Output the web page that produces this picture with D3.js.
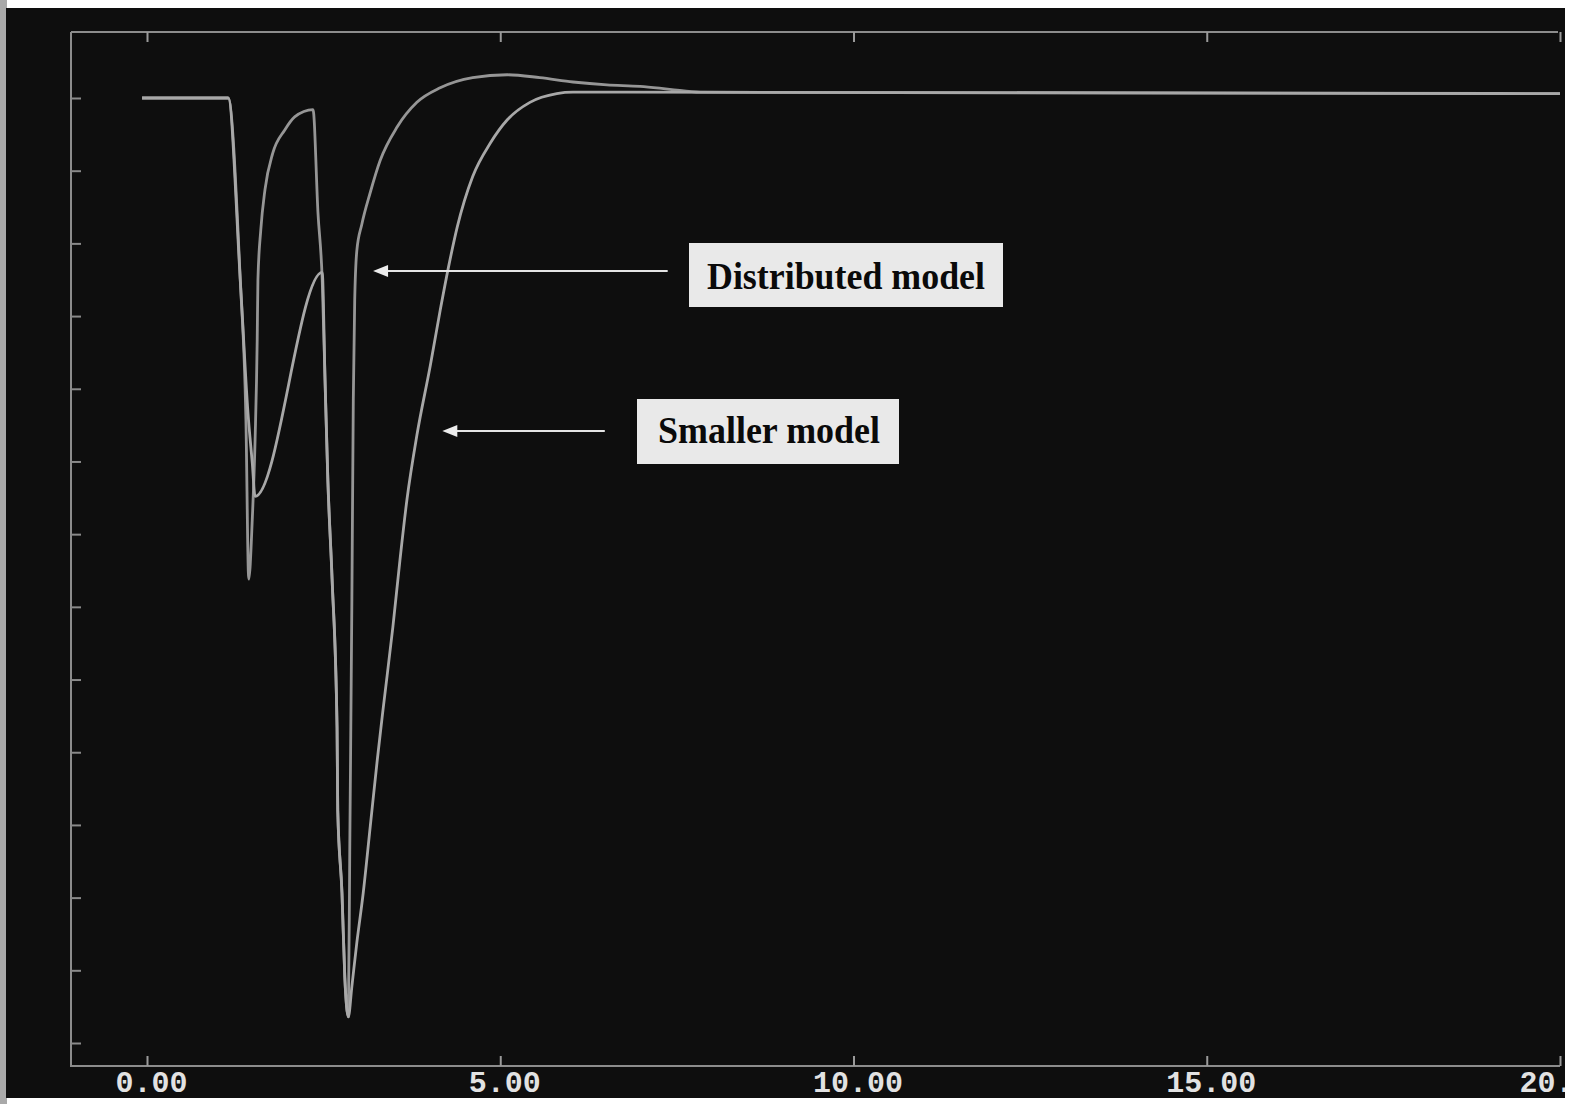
<!DOCTYPE html>
<html>
<head>
<meta charset="utf-8">
<script src="https://cdn.jsdelivr.net/npm/d3@7"></script>
<style>
  body { margin: 0; background: #fff; }
</style>
</head>
<body>
<div id="chart-area"></div>
<script>
// time axis ticks and the (hidden) voltage ticks
const xTicks = [0, 5, 10, 15, 20]
const yTicks = d3.range(14).map(i => +(0.35 + i * 0.05).toFixed(2))

// distributed model trace
const distT = [-0.07, 1.15, 1.32, 1.40, 1.44, 1.49, 1.53, 1.56, 1.57, 1.61, 1.67, 1.78, 1.95, 2.09, 2.35,
  2.42, 2.48, 2.52, 2.56, 2.62, 2.69, 2.70, 2.76, 2.80, 2.85,
  2.87, 2.90, 2.92, 2.94, 2.97, 3.04, 3.16, 3.30, 3.54, 3.82, 4.15, 4.61, 5.10, 5.56, 6.03, 6.51, 6.98, 7.40, 7.83, 20.0]
const distV = [1.000, 1.000, 0.875, 0.779, 0.669, 0.710, 0.765, 0.834, 0.875, 0.909, 0.937, 0.962, 0.978, 0.987, 0.992,
  0.921, 0.875, 0.806, 0.737, 0.669, 0.567, 0.510, 0.453, 0.395, 0.368,
  0.483, 0.655, 0.792, 0.861, 0.895, 0.913, 0.935, 0.957, 0.980, 0.997, 1.007, 1.014, 1.016, 1.014, 1.011, 1.009, 1.008, 1.006, 1.004, 1.003]

// smaller model trace
const smallT = [-0.07, 1.15, 1.32, 1.43, 1.49, 1.53, 2.48, 2.52, 2.56, 2.62, 2.69, 2.70, 2.76, 2.80, 2.85,
  2.90, 2.97, 3.06, 3.16, 3.26, 3.34, 3.48, 3.58, 3.68, 3.82, 4.01, 4.15, 4.29, 4.39, 4.61, 4.86, 5.10, 5.42, 5.80, 6.03, 6.74, 20.0]
const smallV = [1.000, 1.000, 0.875, 0.783, 0.749, 0.726, 0.880, 0.806, 0.737, 0.669, 0.567, 0.510, 0.453, 0.395, 0.368,
  0.389, 0.419, 0.453, 0.499, 0.545, 0.579, 0.636, 0.682, 0.724, 0.768, 0.816, 0.854, 0.889, 0.911, 0.946, 0.969, 0.985, 0.997, 1.003, 1.004, 1.004, 1.003]

const labels = ['Distributed model', 'Smaller model']

const W = 1578, H = 1104
const frame = {left: 71, top: 32, right: 1560, bottom: 1066}

const svg = d3.select('#chart-area').append('svg')
  .attr('width', W)
  .attr('height', H)

// scanned black screen
svg.append('rect').attr('x', 0).attr('y', 0).attr('width', 7).attr('height', H).attr('fill', '#a9a9a9')
svg.append('rect')
  .attr('x', 6).attr('y', 8).attr('width', 1559).attr('height', 1090)
  .attr('fill', '#0e0e0e')

svg.append('clipPath').attr('id', 'screen')
  .append('rect').attr('x', 6).attr('y', 8).attr('width', 1559).attr('height', 1096)

const g = svg.append('g').attr('clip-path', 'url(#screen)')

const x = d3.scaleLinear().domain([0, 20]).range([147, 1560])
const y = d3.scaleLinear().domain([1.0, 0.35]).range([98, 1043])

// frame
g.append('path')
  .attr('d', `M${frame.left},${frame.top}H${frame.right - 2}M${frame.left},${frame.top}V${frame.bottom}H${frame.right}`)
  .attr('fill', 'none')
  .attr('stroke', '#8c8c8c')
  .attr('stroke-width', 2)

const xAxisCall = d3.axisBottom(x)
  .tickValues(xTicks)
  .tickSizeInner(-10)
  .tickSizeOuter(0)
  .tickFormat(d3.format('.2f'))
const xAxis = g.append('g')
  .attr('transform', `translate(0,${frame.bottom})`)
  .call(xAxisCall)
xAxis.select('.domain').remove()
xAxis.selectAll('line').attr('stroke', '#9a9a9a').attr('stroke-width', 2)
xAxis.selectAll('text')
  .attr('y', 26)
  .attr('dy', 0)
  .attr('x', 4)
  .attr('fill', '#e2e2e2')
  .attr('font-family', '"Liberation Mono", "DejaVu Sans Mono", monospace')
  .attr('font-weight', 'bold')
  .attr('font-size', 30)

const topAxis = g.append('g')
  .attr('transform', `translate(0,${frame.top})`)
  .call(d3.axisBottom(x).tickValues(xTicks).tickSizeInner(10).tickSizeOuter(0).tickFormat(''))
topAxis.select('.domain').remove()
topAxis.selectAll('line').attr('stroke', '#9a9a9a').attr('stroke-width', 2)

const yAxis = g.append('g')
  .attr('transform', `translate(${frame.left},0)`)
  .call(d3.axisRight(y).tickValues(yTicks).tickSizeInner(10).tickSizeOuter(0).tickFormat(''))
yAxis.select('.domain').remove()
yAxis.selectAll('line').attr('stroke', '#8a8a8a').attr('stroke-width', 2)

// traces
const line = d3.line()
  .x(d => x(d[0]))
  .y(d => y(d[1]))
  .curve(d3.curveMonotoneX)

const series = [
  {name: labels[0], pts: d3.zip(distT, distV), color: '#969696'},
  {name: labels[1], pts: d3.zip(smallT, smallV), color: '#a8a8a8'}
]

g.selectAll('.trace').data(series).enter().append('path')
  .attr('class', 'trace')
  .attr('d', d => line(d.pts))
  .attr('fill', 'none')
  .attr('stroke', d => d.color)
  .attr('stroke-width', 2.8)
  .attr('stroke-linejoin', 'round')

// annotation boxes with arrows
const notes = [
  {text: labels[0], tip: [3.20, 0.881], lineEnd: 7.37, box: [689, 243, 314, 64], tx: 707, ty: 289, tw: 278},
  {text: labels[1], tip: [4.18, 0.771], lineEnd: 6.48, box: [637, 399, 262, 65], tx: 658, ty: 443, tw: 222}
]

const note = g.selectAll('.note').data(notes).enter().append('g').attr('class', 'note')

note.append('line')
  .attr('x1', d => x(d.tip[0]) + 12)
  .attr('x2', d => x(d.lineEnd))
  .attr('y1', d => y(d.tip[1]))
  .attr('y2', d => y(d.tip[1]))
  .attr('stroke', '#e4e4e4')
  .attr('stroke-width', 2)

note.append('path')
  .attr('d', d => {
    const px = x(d.tip[0]), py = y(d.tip[1])
    return `M${px},${py}L${px + 15},${py - 6}L${px + 15},${py + 6}Z`
  })
  .attr('fill', '#ececec')

note.append('rect')
  .attr('x', d => d.box[0])
  .attr('y', d => d.box[1])
  .attr('width', d => d.box[2])
  .attr('height', d => d.box[3])
  .attr('fill', '#e9e9e9')

note.append('text')
  .attr('x', d => d.tx)
  .attr('y', d => d.ty)
  .attr('textLength', d => d.tw)
  .attr('lengthAdjust', 'spacingAndGlyphs')
  .attr('font-family', '"Liberation Serif", "Times New Roman", serif')
  .attr('font-weight', 'bold')
  .attr('font-size', 37)
  .attr('fill', '#0a0a0a')
  .text(d => d.text)
</script>
</body>
</html>
